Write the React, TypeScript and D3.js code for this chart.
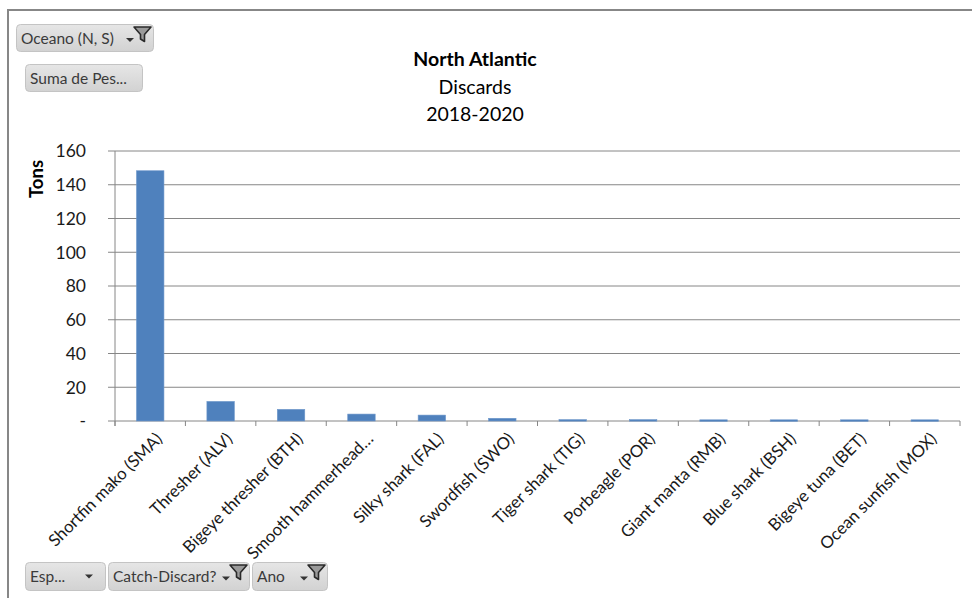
import React from "react";
import * as d3 from "d3";

const categories = [
  "Shortfin mako (SMA)",
  "Thresher (ALV)",
  "Bigeye thresher (BTH)",
  "Smooth hammerhead…",
  "Silky shark (FAL)",
  "Swordfish (SWO)",
  "Tiger shark (TIG)",
  "Porbeagle (POR)",
  "Giant manta (RMB)",
  "Blue shark (BSH)",
  "Bigeye tuna (BET)",
  "Ocean sunfish (MOX)",
];
const values = [148.3, 11.6, 6.9, 4.1, 3.5, 1.6, 0.8, 0.8, 0.7, 0.7, 0.7, 0.7];
const yTicks = [0, 20, 40, 60, 80, 100, 120, 140, 160];
const titleLines = ["North Atlantic", "Discards", "2018-2020"];
const yAxisTitle = "Tons";
const topButtons = [
  { label: "Oceano (N, S)", arrow: true, filter: true },
  { label: "Suma de Pes...", arrow: false, filter: false },
];
const bottomButtons = [
  { label: "Esp...", arrow: true, filter: false },
  { label: "Catch-Discard?", arrow: true, filter: true },
  { label: "Ano", arrow: true, filter: true },
];

const FONT = "Lato, 'Open Sans', sans-serif";
const W = 972;
const H = 598;
const plot = { left: 115, right: 960, top: 151, bottom: 421 };

function Button({ x, y, w, h, label, arrow, filter }: any) {
  return (
    <g transform={`translate(${x},${y})`}>
      <rect x={0.5} y={0.5} width={w - 1} height={h - 1} rx={4} fill="url(#btnGrad)" stroke="#c4c4c4" />
      <text x={5} y={h / 2 + 5.5} fontSize={15.5} fill="#3a3a3a" fontFamily={FONT}>
        {label}
      </text>
      {arrow && (
        <path
          d={filter ? `M${w - 28},${h / 2} l8,0 l-4,4 z` : `M${w - 21},${h / 2 - 2} l8,0 l-4,4 z`}
          fill="#333"
        />
      )}
      {filter && (
        <path
          d={`M${w - 20},${3} l17,0 l-6.5,7.5 l0,7 l-4,-2.5 l0,-4.5 z`}
          fill="#9a9a9a"
          stroke="#2a2a2a"
          strokeWidth={1.6}
          strokeLinejoin="round"
        />
      )}
    </g>
  );
}

export default function App() {
  const x = d3
    .scaleBand<string>()
    .domain(categories)
    .range([plot.left, plot.right])
    .paddingInner(0.61)
    .paddingOuter(0.305);
  const xBand = d3.scaleBand<string>().domain(categories).range([plot.left, plot.right]);
  const y = d3.scaleLinear().domain([0, 160]).range([plot.bottom, plot.top]);
  const step = xBand.step();
  const tickXs = d3.range(categories.length + 1).map((i) => plot.left + i * step);

  return (
    <svg width={W} height={H} style={{ position: "absolute", left: 0, top: 0, background: "#fff" }}>
      <defs>
        <linearGradient id="btnGrad" x1="0" y1="0" x2="0" y2="1">
          <stop offset="0" stopColor="#e6e6e6" />
          <stop offset="1" stopColor="#d2d2d2" />
        </linearGradient>
      </defs>
      <rect x={0} y={0} width={W} height={H} fill="#fff" />
      {/* chart frame */}
      <path d={`M8,${H + 5} L8,10 L${W + 5},10`} fill="none" stroke="#878787" strokeWidth={2} />

      {/* gridlines */}
      {yTicks.map((t) => (
        <line key={t} x1={plot.left - 7} x2={plot.right} y1={y(t)} y2={y(t)} stroke="#868686" strokeWidth={1} />
      ))}
      {/* y axis line */}
      <line x1={plot.left} x2={plot.left} y1={plot.top} y2={plot.bottom + 5} stroke="#868686" />
      {/* x tick marks */}
      {tickXs.map((tx, i) => (
        <line key={i} x1={tx} x2={tx} y1={plot.bottom} y2={plot.bottom + 5} stroke="#868686" />
      ))}
      {/* y tick labels */}
      {yTicks.map((t) => (
        <text
          key={t}
          x={86}
          y={y(t)}
          dy="0.36em"
          textAnchor="end"
          fontSize={17.5}
          fill="#1a1a1a"
          fontFamily={FONT}
        >
          {t === 0 ? "-" : t}
        </text>
      ))}
      {/* bars */}
      {categories.map((c, i) => (
        <rect
          key={c}
          x={x(c)}
          y={y(values[i])}
          width={x.bandwidth()}
          height={Math.max(1.5, plot.bottom - y(values[i]))}
          fill="#4f81bd"
          stroke="#6f98cb"
          strokeWidth={0.6}
        />
      ))}
      {/* category labels */}
      {categories.map((c) => {
        const cx = (xBand(c) as number) + step / 2;
        return (
          <text
            key={c}
            transform={`translate(${cx + 4},${431}) rotate(-45)`}
            dy="0.75em"
            textAnchor="end"
            fontSize={16.8}
            fill="#1a1a1a"
            fontFamily={FONT}
          >
            {c}
          </text>
        );
      })}
      {/* y axis title */}
      <text
        transform={`translate(43,179) rotate(-90)`}
        textAnchor="middle"
        fontSize={18.5}
        fontWeight="bold"
        fill="#000"
        fontFamily={FONT}
      >
        {yAxisTitle}
      </text>
      {/* title */}
      {titleLines.map((t, i) => (
        <text
          key={t}
          x={475}
          y={66 + i * 27.5}
          textAnchor="middle"
          fontSize={19.5}
          fontWeight={i === 0 ? "bold" : "normal"}
          fill="#000"
          fontFamily={FONT}
        >
          {t}
        </text>
      ))}
      {/* pivot buttons */}
      <Button x={16} y={24} w={138} h={28} {...topButtons[0]} />
      <Button x={25} y={64} w={118} h={28} {...topButtons[1]} />
      <Button x={25} y={562} w={81} h={29} {...bottomButtons[0]} />
      <Button x={108} y={562} w={142} h={29} {...bottomButtons[1]} />
      <Button x={252} y={562} w={76} h={29} {...bottomButtons[2]} />
    </svg>
  );
}
